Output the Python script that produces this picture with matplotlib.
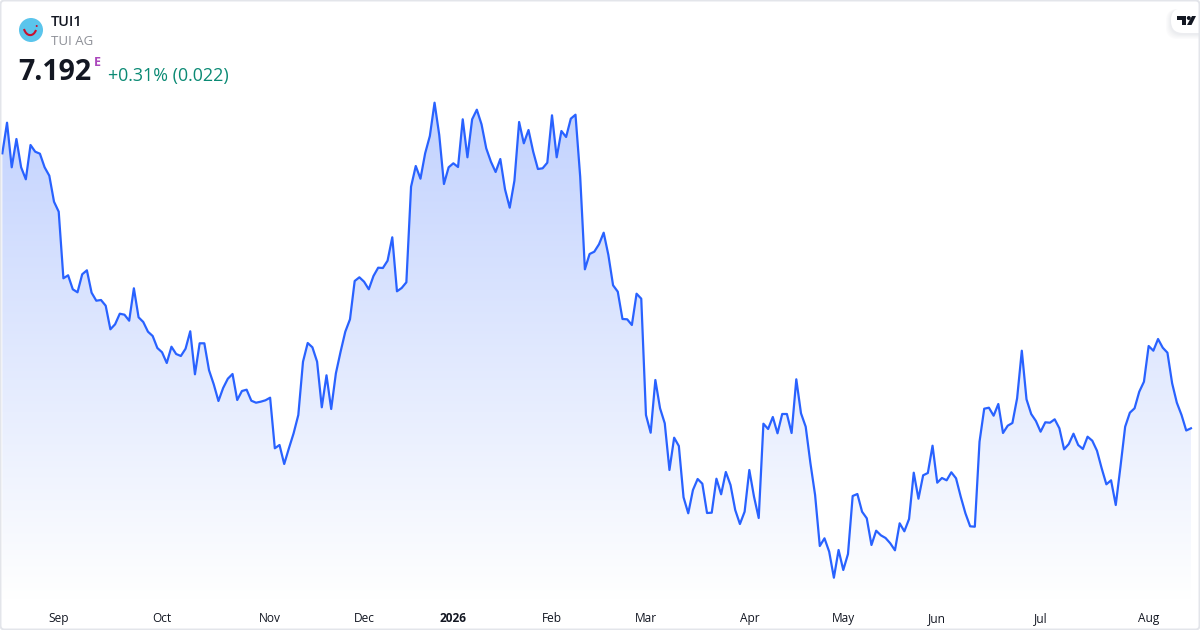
"""TUI1 one-year price chart, area style with a gradient fill."""

import numpy as np
import matplotlib

matplotlib.use("Agg")
import matplotlib.pyplot as plt
from matplotlib.colors import LinearSegmentedColormap
from matplotlib.patches import Circle, FancyBboxPatch, PathPatch, Polygon
from matplotlib.path import Path

# ---
# Data
# ---

prices = [
    9.942, 10.248, 9.802, 10.085, 9.802, 9.682, 10.025, 9.958, 9.938, 9.802,
    9.718, 9.458, 9.358, 8.692, 8.722, 8.582, 8.552, 8.732, 8.772, 8.548,
    8.468, 8.475, 8.418, 8.182, 8.232, 8.338, 8.328, 8.268, 8.592, 8.302,
    8.255, 8.158, 8.115, 7.995, 7.952, 7.845, 8.008, 7.935, 7.915, 7.988,
    8.162, 7.732, 8.042, 8.042, 7.772, 7.632, 7.465, 7.595, 7.688, 7.735,
    7.475, 7.565, 7.578, 7.468, 7.448, 7.458, 7.472, 7.498, 6.992, 7.025,
    6.835, 6.992, 7.142, 7.325, 7.858, 8.045, 8.002, 7.858, 7.402, 7.722,
    7.385, 7.742, 7.958, 8.158, 8.282, 8.665, 8.702, 8.658, 8.582, 8.715,
    8.798, 8.795, 8.868, 9.102, 8.562, 8.595, 8.652, 9.608, 9.815, 9.688,
    9.942, 10.115, 10.448, 10.125, 9.635, 9.802, 9.842, 9.805, 10.282, 9.902,
    10.282, 10.378, 10.232, 9.992, 9.858, 9.755, 9.885, 9.582, 9.398, 9.668,
    10.255, 10.042, 10.175, 9.958, 9.785, 9.792, 9.848, 10.322, 9.902, 10.165,
    10.105, 10.288, 10.328, 9.708, 8.782, 8.935, 8.958, 9.032, 9.148, 8.925,
    8.622, 8.558, 8.285, 8.282, 8.225, 8.538, 8.488, 7.325, 7.148, 7.675,
    7.392, 7.242, 6.775, 7.098, 7.015, 6.502, 6.342, 6.575, 6.685, 6.638,
    6.345, 6.348, 6.688, 6.532, 6.755, 6.625, 6.375, 6.235, 6.358, 6.775,
    6.508, 6.295, 7.238, 7.185, 7.305, 7.142, 7.335, 7.335, 7.145, 7.682,
    7.342, 7.208, 6.845, 6.525, 6.015, 6.092, 5.958, 5.698, 5.975, 5.775,
    5.935, 6.515, 6.535, 6.358, 6.292, 6.025, 6.168, 6.122, 6.095, 6.042,
    5.972, 6.242, 6.162, 6.285, 6.748, 6.488, 6.722, 6.745, 7.018, 6.648,
    6.695, 6.672, 6.752, 6.692, 6.508, 6.342, 6.212, 6.208, 7.058, 7.388,
    7.398, 7.318, 7.435, 7.145, 7.218, 7.245, 7.492, 7.968, 7.482, 7.335,
    7.265, 7.158, 7.252, 7.248, 7.282, 7.192, 6.982, 7.035, 7.138, 7.025,
    6.985, 7.108, 7.068, 6.968, 6.792, 6.632, 6.672, 6.425, 6.808, 7.208,
    7.348, 7.392, 7.558, 7.658, 8.015, 7.968, 8.085, 7.998, 7.948, 7.642,
    7.448, 7.325, 7.170, 7.192,
]

# Trading-day index of the first session of each month
month_labels = ["Sep", "Oct", "Nov", "Dec", "2026", "Feb", "Mar", "Apr", "May", "Jun", "Jul", "Aug"]
month_sessions = [12, 34, 57, 77, 96, 117, 137, 159, 179, 199, 221, 244]

symbol = "TUI1"
company = "TUI AG"
last_price = "7.192"
change_text = "+0.31% (0.022)"

LINE_COLOR = "#2962FF"
TEXT_COLOR = "#131722"
FONT = ["Open Sans", "DejaVu Sans"]

# ---
# Chart
# ---

plt.rcParams["font.family"] = FONT

fig = plt.figure(figsize=(12, 6.3), dpi=100)
ax = fig.add_axes([0, 0, 1, 1])
ax.set_xlim(-0.496, 254.93)
ax.set_ylim(5.175, 11.475)
ax.axis("off")

sessions = np.arange(len(prices))

# Gradient under the line: strongest at the high, gone near the axis
fill_cmap = LinearSegmentedColormap.from_list("area", ["#FFFFFF", "#C2D2FE"])
fill_bottom = 5.475
gradient = np.linspace(1, 0, 256).reshape(-1, 1)
image = ax.imshow(
    gradient,
    cmap=fill_cmap,
    aspect="auto",
    extent=(sessions[0], sessions[-1], fill_bottom, max(prices)),
    zorder=1,
)
outline = np.column_stack([sessions, prices])
outline = np.vstack([[sessions[0], fill_bottom], outline, [sessions[-1], fill_bottom]])
clip = Polygon(outline, closed=True, transform=ax.transData, facecolor="none", edgecolor="none")
ax.add_patch(clip)
image.set_clip_path(clip)
ax.set_xlim(-0.496, 254.93)
ax.set_ylim(5.175, 11.475)

ax.plot(sessions, prices, color=LINE_COLOR, lw=1.6, solid_joinstyle="round", zorder=2)

for session, label in zip(month_sessions, month_labels):
    ax.text(
        session,
        5.175 + 0.115,
        label,
        ha="center",
        va="center",
        fontsize=8.6,
        color=TEXT_COLOR,
        fontweight="bold" if label == "2026" else "normal",
        zorder=3,
    )

# ---
# Header and logos, on an overlay measured in pixels
# ---

over = fig.add_axes([0, 0, 1, 1], facecolor="none")
over.set_xlim(0, 1200)
over.set_ylim(630, 0)
over.axis("off")

over.add_patch(Circle((31, 30), 12, facecolor="#5BC5EC", edgecolor="none"))
smile = Path([(24, 29), (26.5, 37), (33.5, 37), (36, 30)], [Path.MOVETO, Path.CURVE4, Path.CURVE4, Path.CURVE4])
over.add_patch(PathPatch(smile, facecolor="none", edgecolor="#C8102E", lw=1.5))
over.add_patch(Circle((36.7, 26), 1, facecolor="#C8102E", edgecolor="none"))

over.text(51, 22, symbol, fontsize=10.4, fontweight="semibold", color=TEXT_COLOR, va="center", ha="left")
over.text(51, 41.5, company, fontsize=9.5, color="#8C8F96", va="center", ha="left")
over.text(18.5, 73, last_price, fontsize=20.5, fontweight="bold", color=TEXT_COLOR, va="center", ha="left")
over.text(93.5, 62, "E", fontsize=9, fontweight="bold", color="#AB47BC", va="center", ha="left")
over.text(108, 76.5, change_text, fontsize=12.85, color="#0B8A74", va="center", ha="left")

# TradingView badge in the top right corner, soft shadow first
for grow, shade in zip([5, 4, 3, 2, 1], ["#FBFBFC", "#F8F8F9", "#F4F5F6", "#F0F1F3", "#ECEDF0"]):
    over.add_patch(
        FancyBboxPatch(
            (1171 - grow, 9),
            40 + grow,
            25 + grow,
            boxstyle="round,pad=0,rounding_size=12",
            facecolor=shade,
            edgecolor="none",
        )
    )
over.add_patch(
    FancyBboxPatch(
        (1171, 8),
        40,
        25,
        boxstyle="round,pad=0,rounding_size=12",
        facecolor="white",
        edgecolor="none",
    )
)
over.add_patch(
    Polygon(
        [(1177, 16), (1186, 16), (1186, 25), (1181.5, 25), (1181.5, 20), (1177, 20)],
        closed=True,
        facecolor="#131722",
        edgecolor="none",
    )
)
over.add_patch(Circle((1188.8, 18), 2, facecolor="#131722", edgecolor="none"))
over.add_patch(
    Polygon(
        [(1192, 16), (1196, 16), (1191.5, 25), (1187, 25)],
        closed=True,
        facecolor="#131722",
        edgecolor="none",
    )
)

# Card border
over.add_patch(
    FancyBboxPatch(
        (0.5, 0.5),
        1199,
        629,
        boxstyle="round,pad=0,rounding_size=4",
        facecolor="none",
        edgecolor="#E3E5EA",
        lw=1.4,
    )
)

fig.savefig("out.png", dpi=100)
